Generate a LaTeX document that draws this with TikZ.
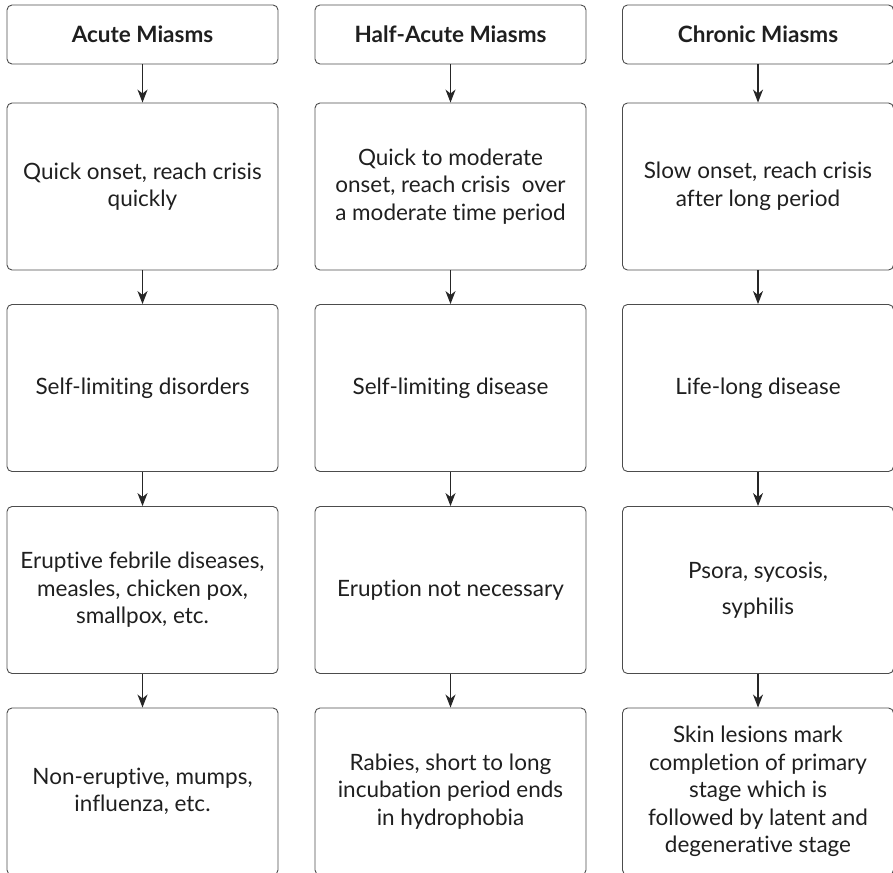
\documentclass[tikz,border=0pt]{standalone}
\usepackage{fontspec}
\setmainfont{Lato}[Ligatures=NoCommon]
\usetikzlibrary{arrows.meta}

\begin{document}
\begin{tikzpicture}[x=1pt, y=-1pt,
		box/.style={draw=black!70, line width=0.9pt, rounded corners=5pt, minimum width=271pt, align=center, font=\fontsize{22.5}{27.5}\selectfont, text=black!88, inner sep=0pt},
		head/.style={box, minimum height=59pt, font=\bfseries\fontsize{22.5}{27}\selectfont},
		step box/.style={box, minimum height=167pt},
		flow/.style={-{Stealth[length=13pt, width=10pt, inset=4pt]}, line width=1.2pt, black!85}]
		%%%%% START %%%%%
		
		\useasboundingbox (0, 0) rectangle (893, 872);
		
		% acute
		\node[head] (acute) at (142.5, 34.5) {Acute Miasms};
		\node[step box] (acuteOnset) at (142.5, 186.5) {Quick onset, reach crisis\\quickly};
		\node[step box] (acuteLimit) at (142.5, 388) {Self-limiting disorders};
		\node[step box] (acuteErupt) at (142.5, 590) {Eruptive febrile diseases,\\measles, chicken pox,\\smallpox, etc.};
		\node[step box] (acuteNon) at (142.5, 791.5) {Non-eruptive, mumps,\\influenza, etc.};
		
		% half-acute
		\node[head] (half) at (450.5, 34.5) {Half-Acute Miasms};
		\node[step box] (halfOnset) at (450.5, 186.5) {Quick to moderate\\onset, reach crisis\ \ over\\a moderate time period};
		\node[step box] (halfLimit) at (450.5, 388) {Self-limiting disease};
		\node[step box] (halfErupt) at (450.5, 590) {Eruption not necessary};
		\node[step box] (halfRabies) at (450.5, 791.5) {Rabies, short to long\\incubation period ends\\in hydrophobia};
		
		% chronic
		\node[head] (chronic) at (758, 34.5) {Chronic Miasms};
		\node[step box] (chronicOnset) at (758, 186.5) {Slow onset, reach crisis\\after long period};
		\node[step box] (chronicLife) at (758, 388) {Life-long disease};
		\node[step box] (chronicPsora) at (758, 590) {Psora, sycosis,\\[9pt]syphilis};
		\node[step box] (chronicSkin) at (758, 791.5) {Skin lesions mark\\completion of primary\\stage which is\\followed by latent and\\degenerative stage};
		
		\draw[flow] (acute) -- (acuteOnset);
		\draw[flow] (acuteOnset) -- (acuteLimit);
		\draw[flow] (acuteLimit) -- (acuteErupt);
		\draw[flow] (acuteErupt) -- (acuteNon);
		
		\draw[flow] (half) -- (halfOnset);
		\draw[flow] (halfOnset) -- (halfLimit);
		\draw[flow] (halfLimit) -- (halfErupt);
		\draw[flow] (halfErupt) -- (halfRabies);
		
		\draw[flow] (chronic) -- (chronicOnset);
		\draw[flow] (chronicOnset) -- (chronicLife);
		\draw[flow] (chronicLife) -- (chronicPsora);
		\draw[flow] (chronicPsora) -- (chronicSkin);
		
		%%%%% END %%%%%
\end{tikzpicture}
\end{document}
